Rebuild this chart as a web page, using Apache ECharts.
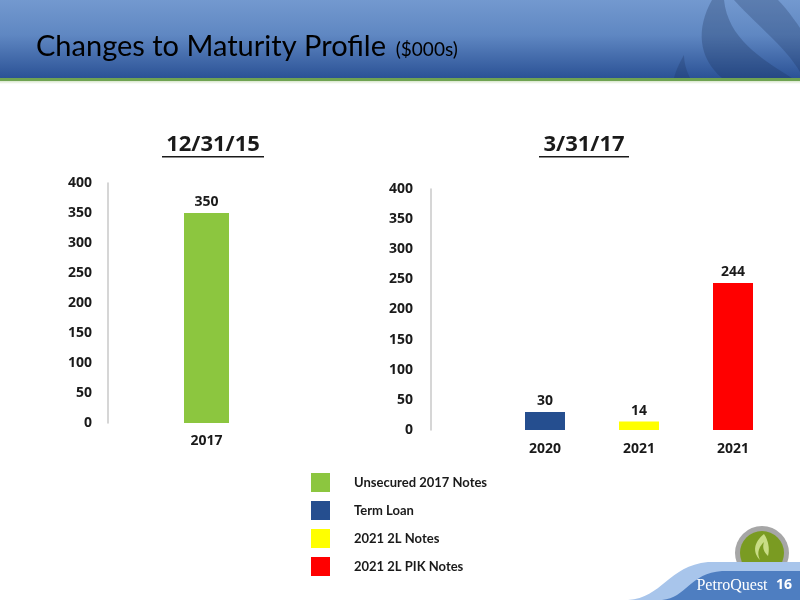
<!DOCTYPE html>
<html>
<head>
<meta charset="utf-8">
<script src="https://cdn.jsdelivr.net/npm/echarts@6/dist/echarts.min.js"></script>
<style>html,body{margin:0;padding:0;background:#fff}#c{width:800px;height:600px}</style>
</head>
<body>
<div id="c"></div>
<script>
// ---- data ----
const leftCategories = ['2017'];
const rightCategories = ['2020', '2021', '2021'];
const unsecured2017Notes = [350];
const termLoan = [30, null, null];
const notes2L2021 = [null, 14, null];
const pikNotes2L2021 = [null, null, 244];
const seriesNames = ['Unsecured 2017 Notes', 'Term Loan', '2021 2L Notes', '2021 2L PIK Notes'];
const yMin = 0, yMax = 400, yStep = 50;
const leftTitle = '12/31/15';
const rightTitle = '3/31/17';

function lin(stops) {
  return {type: 'linear', x: 0, y: 0, x2: 0, y2: 1, colorStops: stops};
}
// decorative outline helper: list of segments, each either a point [x,y] or a cubic [c1,c2,end]
function outline(start, segs) {
  const pts = [start];
  let p = start;
  segs.forEach(function (s) {
    if (s.length === 3) {
      const c1 = s[0], c2 = s[1], e = s[2];
      for (let i = 1; i <= 16; i++) {
        const t = i / 16, u = 1 - t;
        pts.push([
          u*u*u*p[0] + 3*u*u*t*c1[0] + 3*u*t*t*c2[0] + t*t*t*e[0],
          u*u*u*p[1] + 3*u*u*t*c1[1] + 3*u*t*t*c2[1] + t*t*t*e[1]
        ]);
      }
      p = e;
    } else {
      pts.push(s); p = s;
    }
  });
  return pts;
}

const chart = echarts.init(document.getElementById('c'), null, {renderer: 'canvas'});
const F = 'Open Sans, Lato, sans-serif';
const axisLabel = {color: '#1a1a1a', fontWeight: 'bold', fontSize: 14, fontFamily: F};
const yCommon = {
  type: 'value', min: yMin, max: yMax, interval: yStep,
  axisLine: {show: true, lineStyle: {color: '#c8c8c8', width: 1.5}},
  axisTick: {show: false}, splitLine: {show: false}
};
const barLabel = {show: true, position: 'top', distance: 4, color: '#1a1a1a', fontWeight: 'bold', fontSize: 14, fontFamily: F};

chart.setOption({
  animation: false,
  backgroundColor: '#ffffff',
  grid: [
    {left: 108, right: 495, top: 183, bottom: 177},
    {left: 498, right: 20, top: 189, bottom: 170}
  ],
  xAxis: [
    {type: 'category', gridIndex: 0, data: leftCategories, axisLine: {show: false}, axisTick: {show: false},
     axisLabel: Object.assign({margin: 11}, axisLabel)},
    {type: 'category', gridIndex: 1, data: rightCategories, axisLine: {show: false}, axisTick: {show: false},
     axisLabel: Object.assign({margin: 12}, axisLabel)}
  ],
  yAxis: [
    Object.assign({gridIndex: 0, axisLabel: Object.assign({margin: 16}, axisLabel)}, yCommon),
    Object.assign({gridIndex: 1, offset: 67, axisLabel: Object.assign({margin: 18}, axisLabel)}, yCommon)
  ],
  legend: {
    orient: 'vertical', left: 306, top: 468, icon: 'rect', itemWidth: 19, itemHeight: 19, itemGap: 9,
    data: seriesNames,
    textStyle: {color: '#1a1a1a', fontWeight: 'bold', fontSize: 13, fontFamily: 'Lato, sans-serif', padding: [0, 0, 0, 19]}
  },
  series: [
    {name: seriesNames[0], type: 'bar', xAxisIndex: 0, yAxisIndex: 0, data: unsecured2017Notes, barWidth: 45,
     itemStyle: {color: '#8CC63F'}, label: barLabel},
    {name: seriesNames[1], type: 'bar', xAxisIndex: 1, yAxisIndex: 1, stack: 'r', data: termLoan, barWidth: 40,
     itemStyle: {color: '#254E8F'}, label: barLabel},
    {name: seriesNames[2], type: 'bar', xAxisIndex: 1, yAxisIndex: 1, stack: 'r', data: notes2L2021, barWidth: 40,
     itemStyle: {color: '#FFFF00'}, label: barLabel},
    {name: seriesNames[3], type: 'bar', xAxisIndex: 1, yAxisIndex: 1, stack: 'r', data: pikNotes2L2021, barWidth: 40,
     itemStyle: {color: '#FF0000'}, label: barLabel}
  ],
  graphic: [
    // header
    {type: 'rect', shape: {x: 0, y: 0, width: 800, height: 78}, z: -10, silent: true,
     style: {fill: lin([{offset: 0, color: '#7399CF'}, {offset: 0.45, color: '#5F87C2'}, {offset: 1, color: '#2B5296'}])}},
    {type: 'polygon', z: -9, silent: true,
     shape: {points: outline([712, 0], [[[696, 28], [698, 58], [722, 78]], [792, 78], [[760, 58], [728, 38], [724, 0]]])},
     style: {fill: 'rgba(25,45,85,0.28)'}},
    {type: 'polygon', z: -9, silent: true,
     shape: {points: outline([734, 0], [[[760, 28], [786, 48], [800, 72]], [800, 28], [[792, 16], [784, 6], [778, 0]]])},
     style: {fill: 'rgba(25,45,85,0.25)'}},
    {type: 'polygon', z: -9, silent: true,
     shape: {points: outline([684, 55], [[[680, 62], [676, 70], [674, 78]], [690, 78], [[686, 70], [684, 62], [684, 55]]])},
     style: {fill: 'rgba(25,45,85,0.25)'}},
    {type: 'rect', shape: {x: 0, y: 78, width: 800, height: 3}, silent: true, style: {fill: '#6FA352'}},
    {type: 'rect', shape: {x: 0, y: 81, width: 800, height: 3}, silent: true,
     style: {fill: lin([{offset: 0, color: '#d8e6cc'}, {offset: 1, color: '#ffffff'}])}},
    {type: 'text', left: 36, top: 32, silent: true,
     style: {text: '{a|Changes to Maturity Profile}{b|  ($000s)}',
       rich: {a: {fontFamily: 'Lato, sans-serif', fontSize: 29, color: '#ffffff'},
              b: {fontFamily: 'Lato, sans-serif', fontSize: 19, color: '#ffffff', padding: [7, 0, 0, 0]}}}},
    // chart titles
    {type: 'text', x: 213, y: 145, silent: true,
     style: {text: leftTitle, fontFamily: F, fontWeight: 'bold', fontSize: 22, fill: '#1a1a1a', align: 'center', verticalAlign: 'middle'}},
    {type: 'rect', shape: {x: 162, y: 156, width: 102, height: 1.5}, silent: true, style: {fill: '#1a1a1a'}},
    {type: 'text', x: 584, y: 145, silent: true,
     style: {text: rightTitle, fontFamily: F, fontWeight: 'bold', fontSize: 22, fill: '#1a1a1a', align: 'center', verticalAlign: 'middle'}},
    {type: 'rect', shape: {x: 539, y: 156, width: 90, height: 1.5}, silent: true, style: {fill: '#1a1a1a'}},
    // logo
    {type: 'circle', shape: {cx: 762, cy: 553, r: 27}, silent: true, z: 1, style: {fill: '#A6A6A6'}},
    {type: 'circle', shape: {cx: 762, cy: 553, r: 22}, silent: true, z: 1, style: {fill: '#7A9B22'}},
    {type: 'polygon', silent: true, z: 1,
     shape: {points: outline([764, 534], [[[754, 542], [752, 552], [760, 560]], [[756, 552], [760, 546], [764, 542]], [[762, 548], [764, 552], [768, 556]], [[770, 548], [768, 540], [764, 534]]])},
     style: {fill: '#C9DD86'}},
    // footer
    {type: 'polygon', silent: true, z: 2,
     shape: {points: outline([628, 600], [[[662, 598], [668, 566], [708, 562]], [800, 562], [800, 600]])},
     style: {fill: '#A8C5EB'}},
    {type: 'polygon', silent: true, z: 2,
     shape: {points: outline([662, 600], [[[686, 598], [690, 573], [722, 571]], [800, 571], [800, 600]])},
     style: {fill: '#4E7EC1'}},
    {type: 'text', x: 732, y: 586, silent: true, z: 3,
     style: {text: 'PetroQuest', fontFamily: 'Liberation Serif, serif', fontSize: 16, fill: '#ffffff', align: 'center', verticalAlign: 'middle'}},
    {type: 'text', x: 784, y: 585, silent: true, z: 3,
     style: {text: '16', fontFamily: F, fontWeight: 'bold', fontSize: 14, fill: '#ffffff', align: 'center', verticalAlign: 'middle'}}
  ]
});
</script>
</body>
</html>
